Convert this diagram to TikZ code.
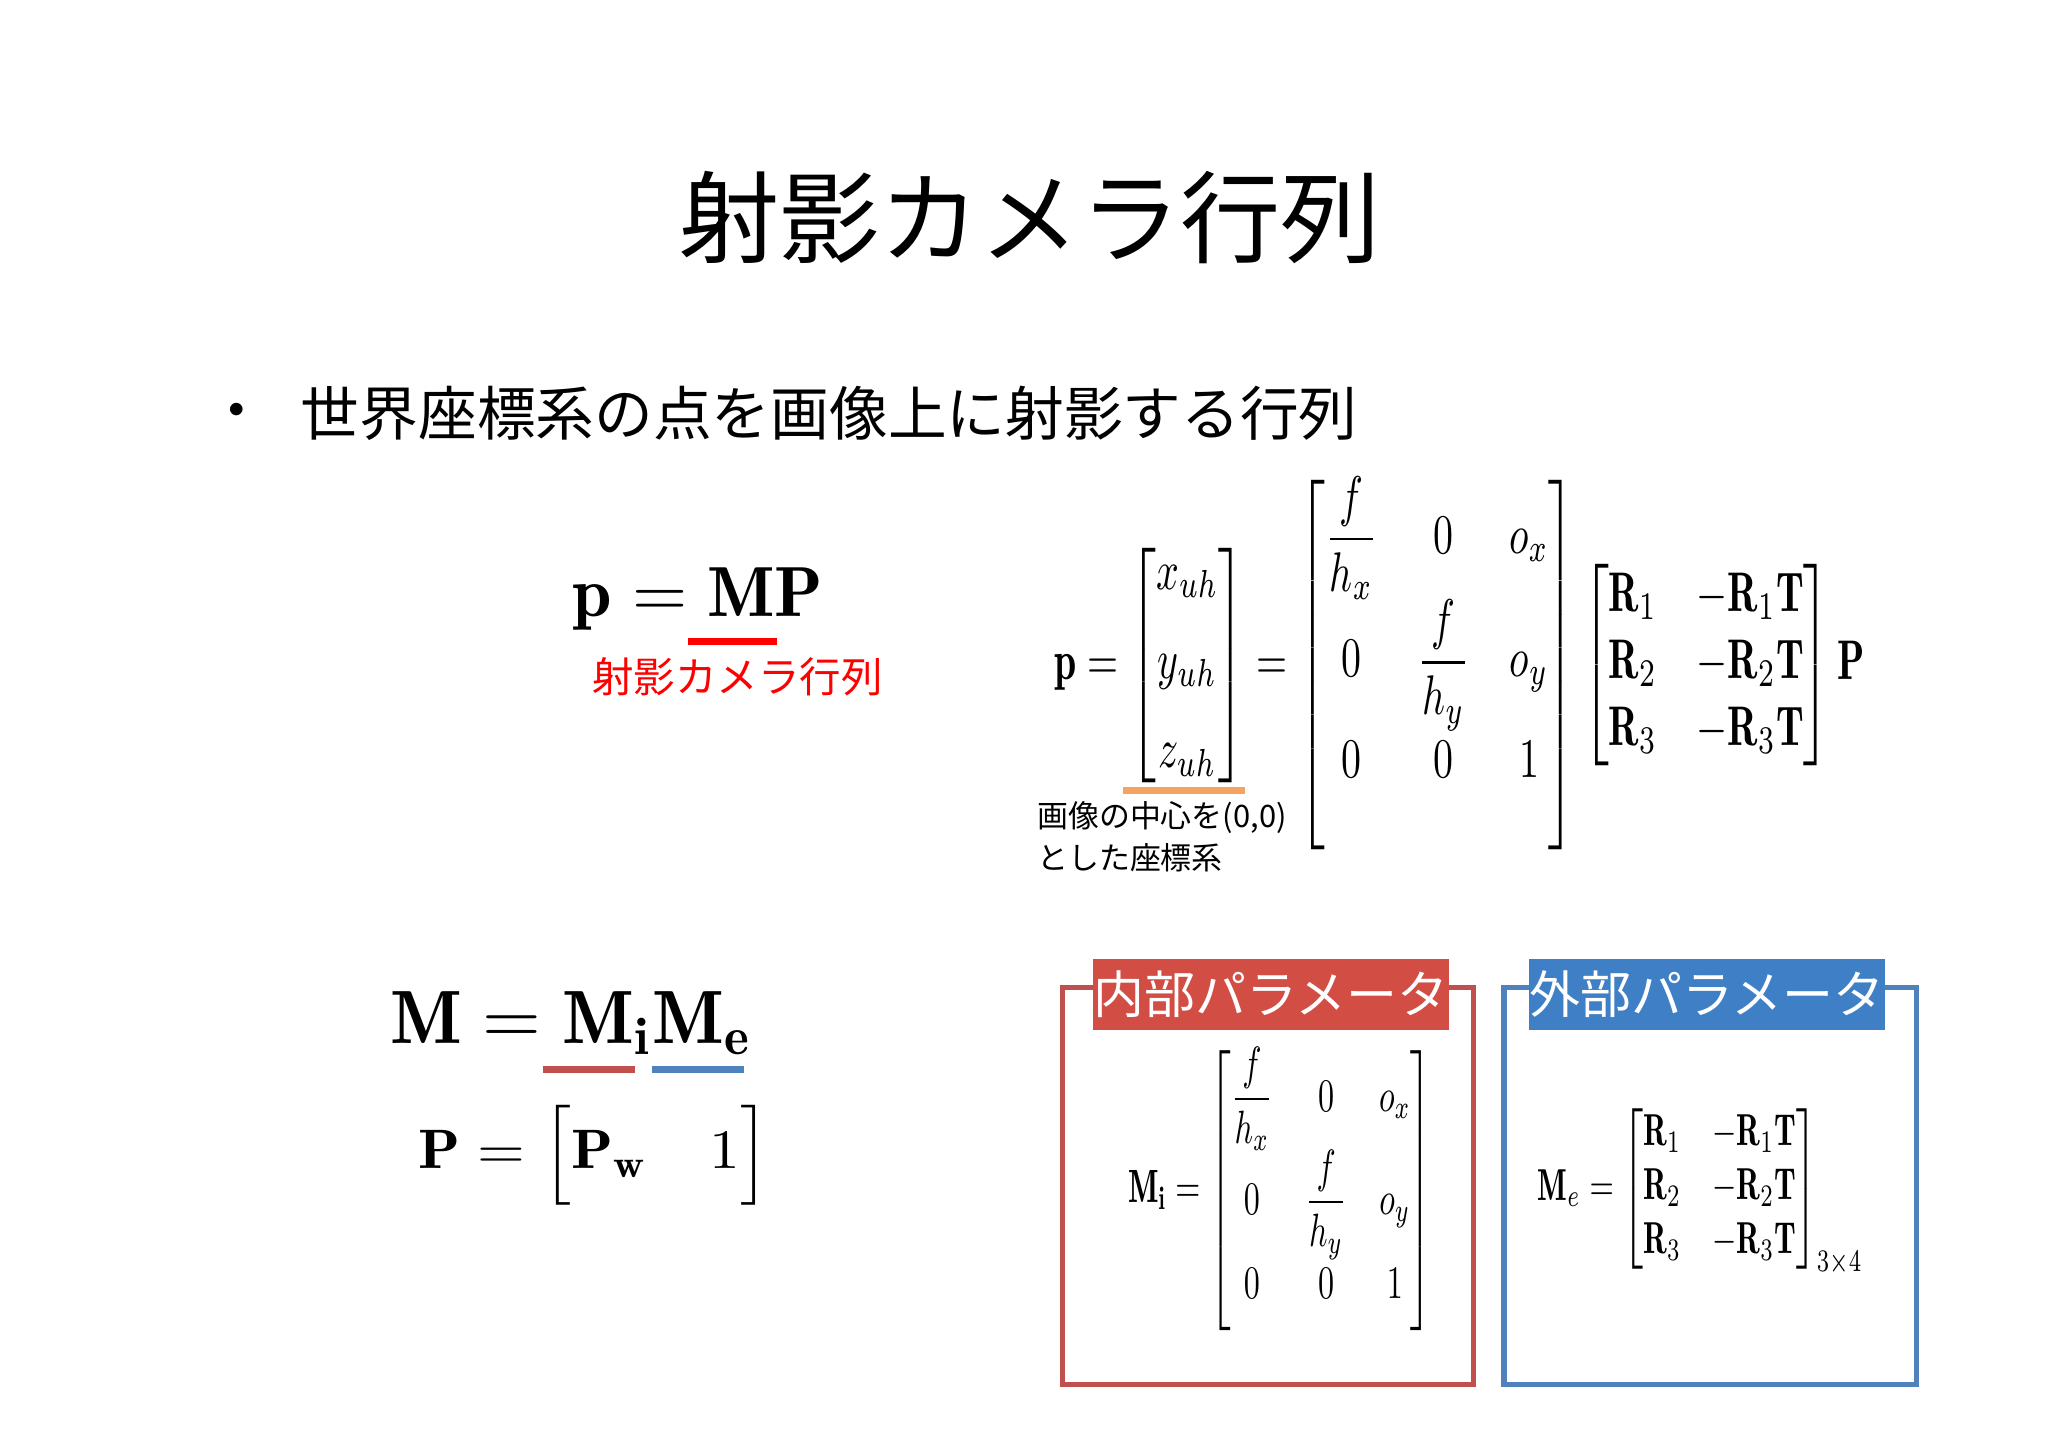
\documentclass[tikz,border=0pt]{standalone}
\usepackage{amsmath}
\usepackage{graphicx}
\usepackage{fontspec}
\newfontfamily\jp{Noto Sans CJK JP}
\definecolor{redb}{HTML}{C0504D}
\definecolor{redh}{HTML}{D24E45}
\definecolor{blueb}{HTML}{4F81BD}
\definecolor{blueh}{HTML}{3F7FC6}
\definecolor{ora}{HTML}{F4A460}
\tikzset{
  hdr/.style={draw=none,inner sep=0pt,text=white,font=\jp\fontsize{14.5}{17}\selectfont},
  ul/.style={line width=2pt},
  eq/.style={inner sep=0pt}
}
\begin{document}
\begin{tikzpicture}[x=0.01317cm,y=-0.01317cm]
\useasboundingbox (0,0) rectangle (1555,1100);
\fill[white] (0,0) rectangle (1555,1100);
\node[eq] (title) at (782,165) {\jp\fontsize{28.5}{32}\selectfont 射影カメラ行列};
\node[eq] (bul) at (180,314) {\fontsize{16}{18}\selectfont\textbullet};
\node[eq,anchor=west] (btxt) at (228,314) {\jp\fontsize{16.7}{20}\selectfont 世界座標系の点を画像上に射影する行列};
\node[eq] (pmp) at (530,455) {\resizebox{2.5cm}{!}{$\mathbf{p}=\mathbf{MP}$}};
\draw[ul,red] (522,487) -- (590,487);
\node[eq,text=red] (lab) at (560,514) {\jp\fontsize{11.8}{14}\selectfont 射影カメラ行列};
\node[eq] (big) at (1108,505) {\resizebox*{8.1cm}{3.77cm}{$\mathbf{p}=\begin{bmatrix}x_{uh}\\[4pt] y_{uh}\\[4pt] z_{uh}\end{bmatrix}=\begin{bmatrix}\dfrac{f}{h_x}&\;0\;&o_x\\[4pt]0&\dfrac{f}{h_y}&o_y\\[4pt]0&0&1\\[10pt]\end{bmatrix}\begin{bmatrix}\mathbf{R}_1&-\mathbf{R}_1\mathbf{T}\\\mathbf{R}_2&-\mathbf{R}_2\mathbf{T}\\\mathbf{R}_3&-\mathbf{R}_3\mathbf{T}\end{bmatrix}\mathbf{P}$}};
\draw[ul,ora] (853,600) -- (945,600);
\node[eq,anchor=north west,align=left,font=\jp\fontsize{8.8}{12}\selectfont] (note) at (787,608) {画像の中心を(0,0)\\とした座標系};
\node[eq] (mm) at (434,777) {\resizebox{3.63cm}{!}{$\mathbf{M}=\mathbf{M}_{\mathbf i}\mathbf{M}_{\mathbf e}$}};
\draw[ul,redb] (412,812) -- (482,812);
\draw[ul,blueb] (495,812) -- (565,812);
\node[eq] (pp) at (451,877) {\resizebox*{3.5cm}{1.0cm}{$\mathbf{P}=\Bigl[\mathbf{P}_{\mathbf w}\quad 1\Bigr]$}};
\draw[redb,line width=1.5pt] (807,750) rectangle (1119,1051);
\draw[blueb,line width=1.5pt] (1142,750) rectangle (1455,1051);
\node[hdr,fill=redh,minimum width=246*0.01317cm,minimum height=54*0.01317cm] (h1) at (965,755) {内部パラメータ};
\node[hdr,fill=blueh,minimum width=247*0.01317cm,minimum height=54*0.01317cm] (h2) at (1296,755) {外部パラメータ};
\node[eq] (mi) at (972,904) {\resizebox*{3.04cm}{2.87cm}{$\mathbf{M}_{\mathbf i}=\begin{bmatrix}\dfrac{f}{h_x}&\;0\;&o_x\\[4pt]0&\dfrac{f}{h_y}&o_y\\[4pt]0&0&1\\[4pt]\end{bmatrix}$}};
\node[eq] (me) at (1291,905) {\resizebox*{3.25cm}{1.67cm}{$\mathbf{M}_e=\begin{bmatrix}\mathbf{R}_1&-\mathbf{R}_1\mathbf{T}\\\mathbf{R}_2&-\mathbf{R}_2\mathbf{T}\\\mathbf{R}_3&-\mathbf{R}_3\mathbf{T}\end{bmatrix}_{3\times4}$}};
\end{tikzpicture}
\end{document}
